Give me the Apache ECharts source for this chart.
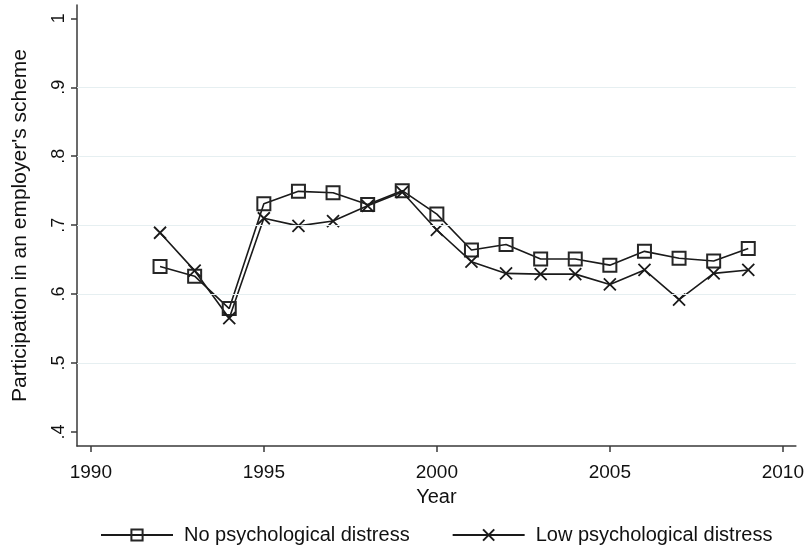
<!DOCTYPE html>
<html>
<head>
<meta charset="utf-8">
<script src="https://cdn.jsdelivr.net/npm/echarts@6/dist/echarts.min.js"></script>
<style>
html,body{margin:0;padding:0;background:#fff;}
#chart{width:807px;height:547px;}
</style>
</head>
<body>
<div id="chart"></div>
<script>
// Data
const years = [1992, 1993, 1994, 1995, 1996, 1997, 1998, 1999, 2000, 2001, 2002, 2003, 2004, 2005, 2006, 2007, 2008, 2009];
const noDistress  = [0.640, 0.626, 0.579, 0.731, 0.749, 0.747, 0.730, 0.750, 0.716, 0.664, 0.672, 0.651, 0.651, 0.642, 0.662, 0.652, 0.648, 0.666];
const lowDistress = [0.689, 0.634, 0.565, 0.710, 0.699, 0.706, 0.728, 0.748, 0.693, 0.647, 0.630, 0.629, 0.629, 0.614, 0.635, 0.592, 0.630, 0.635];
const seriesNames = ['No psychological distress', 'Low psychological distress'];
const xTicks = [1990, 1995, 2000, 2005, 2010];
const yTicks = [0.4, 0.5, 0.6, 0.7, 0.8, 0.9, 1.0];
const yGridLines = [0.5, 0.6, 0.7, 0.8, 0.9];

const pair = (xs, ys) => xs.map((x, i) => [x, ys[i]]);
const font = "'Liberation Sans', Arial, sans-serif";
const ink = '#1a1a1a';
const axisColor = '#3a3a3a';
const xPath = 'path://M0,0L10,10M10,0L0,10';

const chart = echarts.init(document.getElementById('chart'), null, {renderer: 'canvas'});
chart.setOption({
  animation: false,
  backgroundColor: '#ffffff',
  grid: {left: 77, right: 11, top: 5, bottom: 101, containLabel: false},
  xAxis: {
    type: 'value',
    min: 1989.6, max: 2010.376,
    name: 'Year', nameLocation: 'middle', nameGap: 41,
    nameTextStyle: {fontFamily: font, fontSize: 20, color: '#111'},
    axisLine: {show: true, onZero: false, lineStyle: {color: axisColor, width: 1.5}},
    axisTick: {show: true, customValues: xTicks, length: 6, lineStyle: {color: axisColor, width: 1.5}},
    axisLabel: {customValues: xTicks, margin: 17, fontFamily: font, fontSize: 19, color: '#111',
      formatter: v => String(Math.round(v))},
    splitLine: {show: false}
  },
  yAxis: {
    type: 'value',
    min: 0.3797, max: 1.0193,
    name: "Participation in an employer's scheme", nameLocation: 'middle', nameGap: 46, nameRotate: 90,
    nameTextStyle: {fontFamily: font, fontSize: 21, color: '#111'},
    axisLine: {show: true, onZero: false, lineStyle: {color: axisColor, width: 1.5}},
    axisTick: {show: true, customValues: yTicks, length: 6, lineStyle: {color: axisColor, width: 1.5}},
    axisLabel: {customValues: yTicks, rotate: 90, margin: 9, fontFamily: font, fontSize: 18, color: '#111',
      formatter: v => (v > 0.999 ? '1' : v.toFixed(1).replace(/^0/, ''))},
    splitLine: {show: false}
  },
  legend: {
    data: seriesNames,
    left: 95, top: 520, width: 712,
    itemWidth: 72, itemHeight: 14, itemGap: 42,
    textStyle: {fontFamily: font, fontSize: 20, color: '#111', padding: [0, 0, 0, 6]},
    inactiveColor: '#ccc'
  },
  series: [
    {
      name: 'grid', type: 'line', data: [], silent: true, z: 1,
      markLine: {
        silent: true, symbol: ['none', 'none'], label: {show: false},
        lineStyle: {color: '#e6eff1', width: 1.2, type: 'solid'},
        emphasis: {disabled: true},
        data: yGridLines.map(v => ({yAxis: v}))
      }
    },
    {
      name: seriesNames[0], type: 'line', z: 3,
      data: pair(years, noDistress),
      symbol: 'rect', symbolSize: 13,
      lineStyle: {color: ink, width: 1.6},
      itemStyle: {color: 'rgba(0,0,0,0)', borderColor: '#262626', borderWidth: 2},
      emphasis: {disabled: true}
    },
    {
      name: seriesNames[1], type: 'line', z: 3,
      data: pair(years, lowDistress),
      symbol: xPath, symbolSize: 12,
      lineStyle: {color: ink, width: 1.6},
      itemStyle: {color: 'rgba(0,0,0,0)', borderColor: '#1a1a1a', borderWidth: 1.8},
      emphasis: {disabled: true}
    }
  ]
});
</script>
</body>
</html>
